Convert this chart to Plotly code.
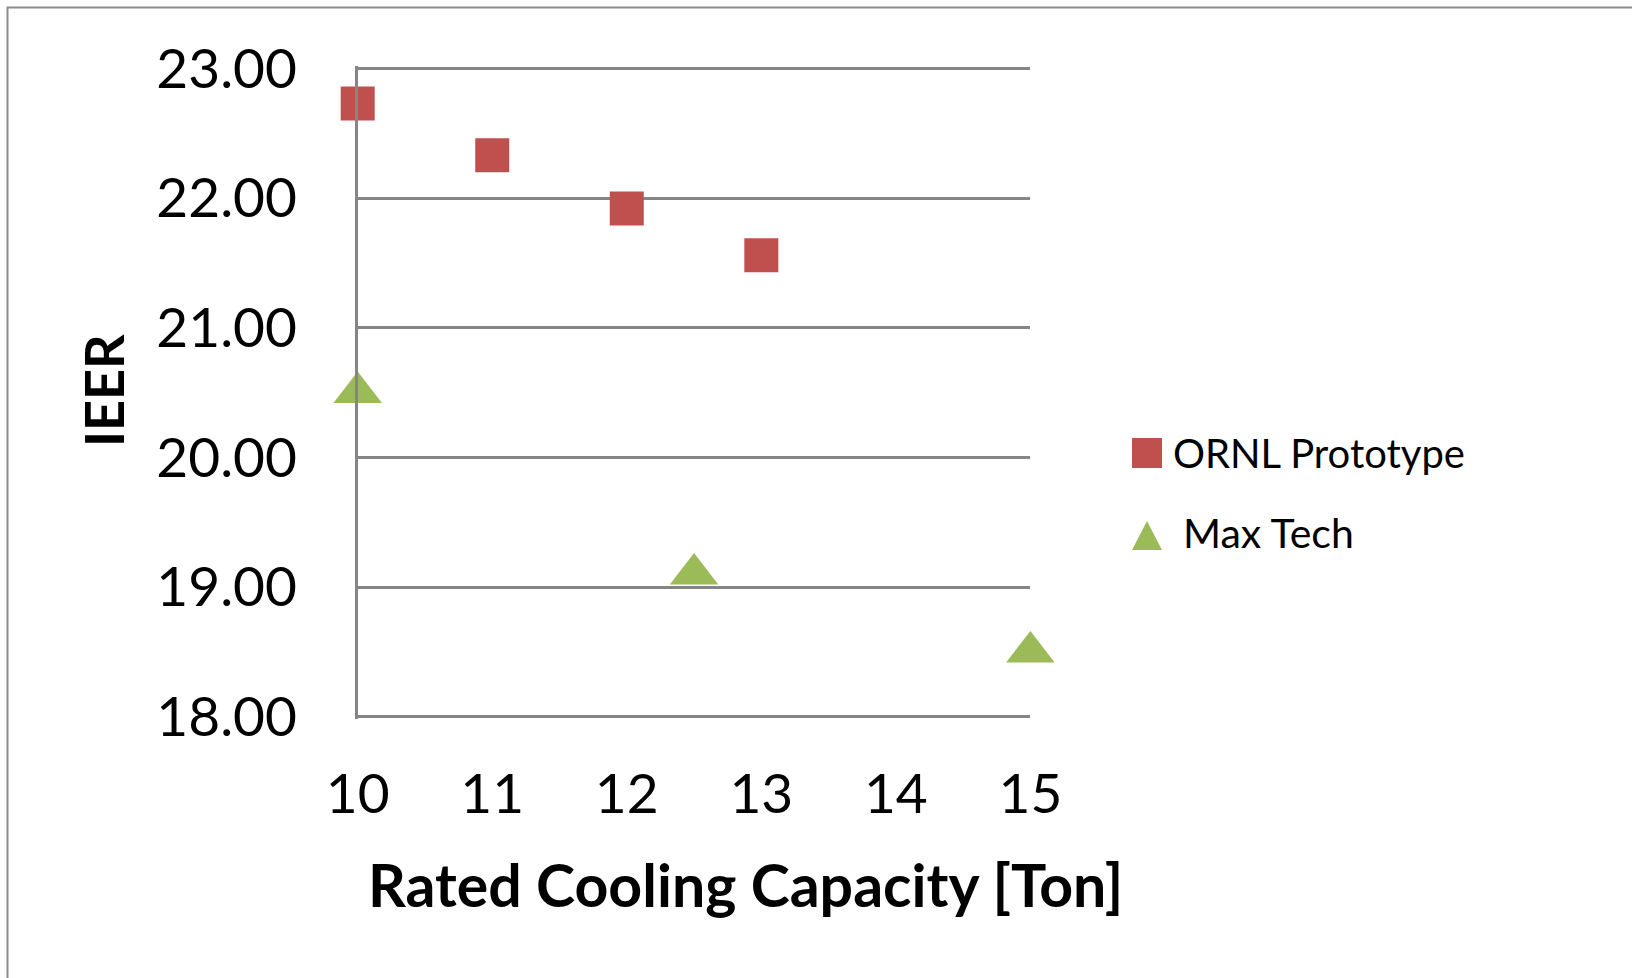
import plotly.graph_objects as go

W, H = 1632, 978

# Rated cooling capacity (ton) and IEER for each series
ornl_capacity = [10, 11, 12, 13]
ornl_ieer = [22.73, 22.33, 21.92, 21.56]
maxtech_capacity = [10, 12.5, 15]
maxtech_ieer = [20.50, 19.10, 18.50]

series_names = ["ORNL Prototype", "Max Tech"]
x_ticks = [10, 11, 12, 13, 14, 15]
y_ticks = [18, 19, 20, 21, 22, 23]

RED = "#C0504D"
GREEN = "#9BBB59"
GRID = "#858585"
FONT = "Lato, 'Open Sans', sans-serif"

# pad so the 18 and 23 gridlines are kept at the ends of the range
Y_PAD = 0.02


def fx(xp):
    """pixel column -> paper fraction"""
    return xp / W


def fy(yp):
    """pixel row (from top) -> paper fraction"""
    return 1 - yp / H


fig = go.Figure()
fig.add_trace(go.Scatter(
    x=ornl_capacity, y=ornl_ieer, mode="markers", name=series_names[0],
    marker=dict(symbol="square", size=34, color=RED, line=dict(width=0)),
    cliponaxis=False, showlegend=False,
))
fig.add_trace(go.Scatter(
    x=maxtech_capacity, y=maxtech_ieer, mode="markers", name=series_names[1],
    marker=dict(symbol="triangle-up", size=42, color=GREEN, line=dict(width=0)),
    cliponaxis=False, showlegend=False,
))

shapes = [
    # outer chart border
    dict(type="rect", xref="paper", yref="paper",
         x0=fx(7.5), x1=fx(1645), y0=fy(990), y1=fy(7.5),
         line=dict(color="#8c8c8c", width=2), fillcolor="rgba(0,0,0,0)", layer="below"),
    # legend keys
    dict(type="rect", xref="paper", yref="paper",
         x0=fx(1132), x1=fx(1162), y0=fy(468), y1=fy(438),
         fillcolor=RED, line=dict(width=0)),
    dict(type="path", xref="paper", yref="paper",
         path=(f"M{fx(1132)},{fy(550)} L{fx(1162)},{fy(550)} "
               f"L{fx(1147)},{fy(521)} Z"),
         fillcolor=GREEN, line=dict(width=0)),
]

annotations = [
    dict(text=series_names[0], xref="paper", yref="paper", x=fx(1171), y=fy(453),
         xanchor="left", yanchor="middle", showarrow=False,
         font=dict(family=FONT, size=40, color="black")),
    dict(text=series_names[1], xref="paper", yref="paper", x=fx(1181), y=fy(532),
         xanchor="left", yanchor="middle", showarrow=False,
         font=dict(family=FONT, size=41, color="black")),
    dict(text="<b>Rated Cooling Capacity [Ton]</b>", xref="paper", yref="paper",
         x=fx(745), y=fy(884), xanchor="center", yanchor="middle", showarrow=False,
         font=dict(family=FONT, size=59, color="black")),
    dict(text="<b>IEER</b>", xref="paper", yref="paper", textangle=-90,
         x=fx(103), y=fy(391), xanchor="center", yanchor="middle", showarrow=False,
         font=dict(family=FONT, size=54, color="black")),
]

px_per_unit = (716.7 - 68.5) / 5
fig.update_layout(
    width=W, height=H,
    margin=dict(l=0, r=0, t=0, b=0, autoexpand=False),
    paper_bgcolor="white", plot_bgcolor="white",
    font=dict(family=FONT, color="black"),
    shapes=shapes, annotations=annotations,
    xaxis=dict(
        domain=[fx(357.7), fx(1030.4)], range=[10, 15],
        tickvals=x_ticks, ticktext=[str(v) for v in x_ticks],
        showgrid=False, zeroline=False, showline=False,
        ticks="", tickfont=dict(family=FONT, size=55, color="black"),
        ticklabelstandoff=int(round(41 - Y_PAD * px_per_unit)), automargin=False,
    ),
    yaxis=dict(
        domain=[fy(716.7 + Y_PAD * px_per_unit), fy(68.5 - Y_PAD * px_per_unit)],
        range=[18 - Y_PAD, 23 + Y_PAD],
        tickvals=y_ticks, tickformat=".2f",
        showgrid=True, gridcolor=GRID, gridwidth=2.5, zeroline=False,
        showline=True, linecolor=GRID, linewidth=2.5,
        ticks="", tickfont=dict(family=FONT, size=55, color="black"),
        ticklabelstandoff=47, automargin=False,
    ),
)

fig.write_html("out.html")
